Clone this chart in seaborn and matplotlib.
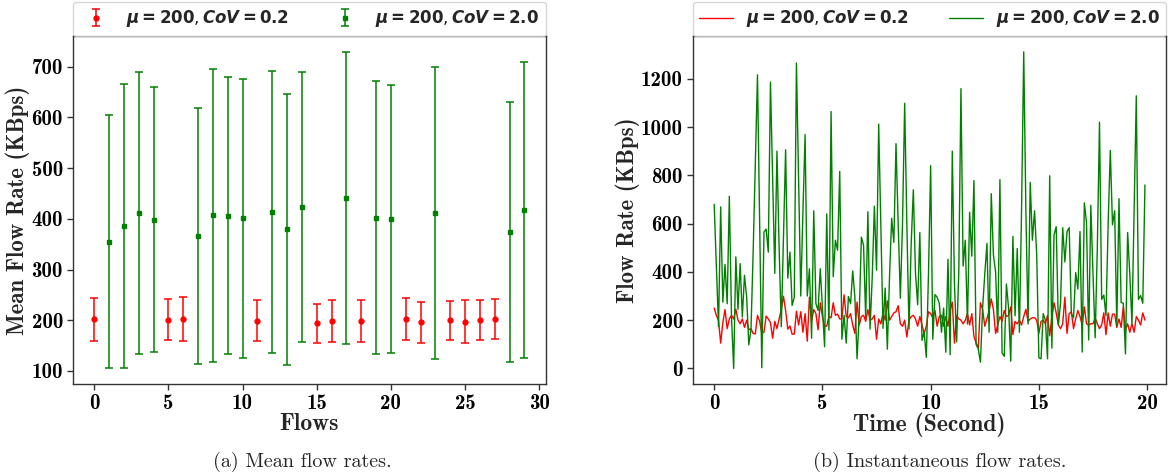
import numpy as np
import pandas as pd
import matplotlib
matplotlib.use("Agg")
import matplotlib.pyplot as plt
import seaborn as sns
from matplotlib.lines import Line2D

# ---------------- data ----------------
flows = list(range(30))
low_cov_flows = [0, 5, 6, 11, 15, 16, 18, 21, 22, 24, 25, 26, 27]
low_cov_mean = [202, 201, 202, 199, 194, 198, 199, 203, 196, 200, 197, 200, 202]
low_cov_std = [42, 40, 43, 40, 39, 41, 41, 41, 40, 38, 42, 39, 39]
high_cov_flows = [1, 2, 3, 4, 7, 8, 9, 10, 12, 13, 14, 17, 19, 20, 23, 28, 29]
high_cov_mean = [355, 385, 412, 398, 366, 407, 406, 401, 413, 379, 424, 441, 402, 400, 412, 374, 418]
high_cov_std = [250, 280, 278, 261, 253, 289, 273, 275, 278, 267, 266, 288, 269, 264, 288, 257, 292]

sample_interval = 0.1
rate_low_cov = [
    250, 220, 200, 105, 190, 244, 165, 205, 220, 205,
    245, 200, 185, 205, 170, 200, 160, 165, 145, 143,
    220, 195, 145, 150, 217, 205, 190, 125, 195, 165,
    205, 245, 299, 240, 163, 176, 142, 142, 237, 180,
    235, 150, 227, 113, 295, 195, 244, 227, 160, 272,
    215, 175, 175, 215, 210, 272, 220, 225, 205, 205,
    305, 215, 210, 227, 180, 145, 275, 180, 215, 220,
    195, 244, 200, 205, 220, 121, 205, 185, 230, 200,
    280, 200, 215, 230, 235, 260, 185, 175, 200, 130,
    200, 215, 220, 205, 175, 215, 180, 145, 175, 235,
    227, 210, 240, 175, 215, 220, 175, 215, 175, 240,
    275, 105, 220, 205, 200, 185, 200, 227, 180, 227,
    133, 105, 85, 272, 245, 175, 205, 240, 288, 244,
    145, 180, 215, 195, 240, 215, 220, 255, 140, 195,
    185, 200, 180, 215, 245, 195, 205, 210, 210, 200,
    145, 195, 200, 185, 220, 135, 215, 272, 230, 180,
    165, 185, 295, 145, 227, 235, 165, 205, 240, 215,
    180, 255, 185, 180, 185, 185, 210, 185, 165, 180,
    230, 140, 230, 175, 225, 225, 170, 205, 170, 255,
    160, 185, 150, 185, 150, 215, 200, 180, 230, 200,
]
rate_high_cov = [
    680, 430, 173, 669, 275, 431, 268, 713, 213, 0,
    462, 245, 434, 213, 386, 295, 98, 160, 480, 850,
    1216, 600, 3, 565, 577, 482, 1186, 790, 394, 900,
    500, 173, 540, 906, 374, 482, 261, 295, 1265, 780,
    300, 650, 969, 300, 413, 125, 653, 268, 240, 413,
    250, 90, 640, 159, 1064, 380, 531, 490, 816, 121,
    220, 105, 298, 268, 404, 295, 40, 220, 544, 510,
    210, 649, 163, 375, 672, 407, 1012, 590, 166, 333,
    80, 380, 622, 522, 931, 600, 291, 600, 1098, 600,
    163, 515, 740, 394, 264, 563, 116, 150, 46, 390,
    840, 121, 306, 295, 270, 150, 250, 67, 452, 57,
    900, 350, 110, 400, 1159, 424, 531, 184, 647, 465,
    778, 100, 80, 26, 250, 390, 518, 150, 724, 470,
    400, 150, 782, 64, 50, 350, 250, 30, 547, 218,
    497, 150, 660, 1311, 650, 184, 771, 531, 653, 470,
    44, 40, 227, 200, 40, 798, 84, 554, 587, 180,
    270, 583, 441, 567, 583, 227, 210, 397, 329, 567,
    68, 686, 604, 118, 676, 390, 127, 500, 1020, 286,
    304, 218, 600, 903, 595, 653, 176, 703, 273, 270,
    60, 563, 390, 184, 650, 1129, 286, 302, 270, 760,
]

label_low = r"$\boldsymbol{\mu = 200, CoV = 0.2}$"
label_high = r"$\boldsymbol{\mu = 200, CoV = 2.0}$"

left_xticks = [0, 5, 10, 15, 20, 25, 30]
left_yticks = [100, 200, 300, 400, 500, 600, 700]
right_xticks = [0, 5, 10, 15, 20]
right_yticks = [0, 200, 400, 600, 800, 1000, 1200]

# ---------------- style ----------------
sns.set_theme(style="ticks")
plt.rcParams["mathtext.fontset"] = "dejavusans"
plt.rcParams["font.family"] = ["DejaVu Sans"]
plt.rcParams["axes.edgecolor"] = "#333333"
plt.rcParams["axes.linewidth"] = 1.0

TICK_FONT = "cmb10"
CAP_FONT = "cmr10"

fig = plt.figure(figsize=(11.7, 4.75), dpi=100)
ax1 = fig.add_axes([0.0621, 0.191, 0.4045, 0.733])
ax2 = fig.add_axes([0.592, 0.191, 0.405, 0.733])

# ---------------- left panel ----------------
df_low = pd.DataFrame({"flow": low_cov_flows, "mean": low_cov_mean, "std": low_cov_std})
df_high = pd.DataFrame({"flow": high_cov_flows, "mean": high_cov_mean, "std": high_cov_std})

e1 = ax1.errorbar(df_low["flow"], df_low["mean"], yerr=df_low["std"], fmt="o",
                  color="red", ecolor="red", markersize=3.5, capsize=3,
                  elinewidth=1.1, capthick=1.1, label=label_low)
e2 = ax1.errorbar(df_high["flow"], df_high["mean"], yerr=df_high["std"], fmt="s",
                  color="green", ecolor="green", markersize=3.5, capsize=3,
                  elinewidth=1.1, capthick=1.1, label=label_high)
ax1.set_xticks(left_xticks)
ax1.set_yticks(left_yticks)
ax1.set_xlabel("Flows", fontfamily=TICK_FONT, fontsize=17, labelpad=0)
ax1.set_ylabel("Mean Flow Rate (KBps)", fontfamily=TICK_FONT, fontsize=16.5, labelpad=1)

# ---------------- right panel ----------------
times = np.arange(len(rate_low_cov)) * sample_interval
df_line = pd.DataFrame({
    "time": np.concatenate([times, times]),
    "rate": rate_low_cov + rate_high_cov,
    "series": [label_low] * len(rate_low_cov) + [label_high] * len(rate_high_cov),
})
sns.lineplot(data=df_line, x="time", y="rate", hue="series",
             palette={label_low: "red", label_high: "green"},
             linewidth=1.0, ax=ax2, legend=False)
ax2.set_xticks(right_xticks)
ax2.set_yticks(right_yticks)
ax2.set_xlabel("Time (Second)", fontfamily=TICK_FONT, fontsize=17, labelpad=0)
ax2.set_ylabel("Flow Rate (KBps)", fontfamily=TICK_FONT, fontsize=16.5, labelpad=1)

h_low = Line2D([], [], color="red", linewidth=1.0)
h_high = Line2D([], [], color="green", linewidth=1.0)

for ax in (ax1, ax2):
    ax.tick_params(axis="both", which="major", length=4, width=1, colors="#333333",
                   labelcolor="black", pad=3)
    for lab in ax.get_xticklabels() + ax.get_yticklabels():
        lab.set_fontfamily(TICK_FONT)
        lab.set_fontsize(15)
    for s in ax.spines.values():
        s.set_visible(True)

leg_kw = dict(loc="lower left", bbox_to_anchor=(0, 1.0, 1, 0.1), mode="expand",
              ncol=2, borderaxespad=0.0, frameon=True, fancybox=True,
              prop={"size": 12, "weight": "bold"}, handlelength=2.0,
              edgecolor="#cccccc")
ax1.legend(handles=[e1, e2], labels=[label_low, label_high], **leg_kw)
ax2.legend(handles=[h_low, h_high], labels=[label_low, label_high], **leg_kw)

fig.text(0.258, 0.028, "(a) Mean flow rates.", ha="center", va="center",
         fontfamily=CAP_FONT, fontsize=14.5)
fig.text(0.803, 0.028, "(b) Instantaneous flow rates.", ha="center", va="center",
         fontfamily=CAP_FONT, fontsize=14.5)

fig.savefig("out.png", dpi=100)
